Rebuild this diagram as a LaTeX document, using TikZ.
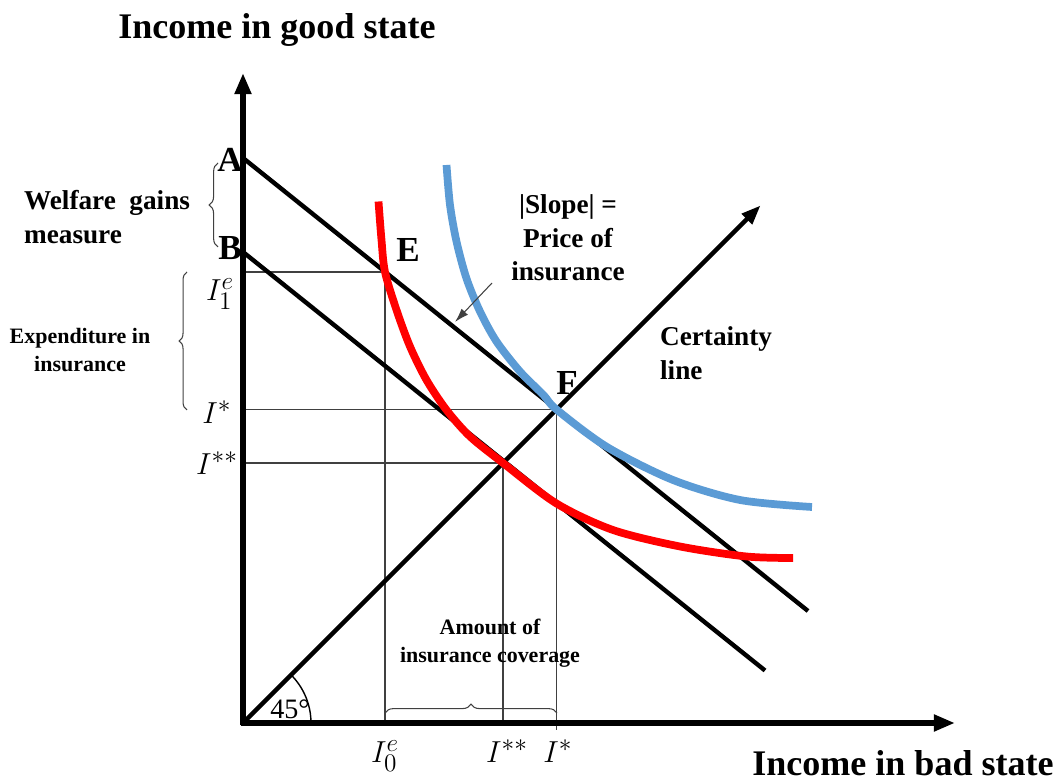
\documentclass[tikz,border=0pt]{standalone}
\usepackage{fontspec}
\setmainfont{Liberation Serif}
\usepackage{xcolor}
\usetikzlibrary{arrows.meta,positioning,decorations.pathreplacing,calc}

\definecolor{insblue}{RGB}{91,155,213}

\begin{document}
\begin{tikzpicture}[
    axis/.style={line width=3pt, -{Triangle[length=12pt,width=9pt]}},
    budget/.style={line width=2.5pt},
    guide/.style={line width=0.6pt, black!75},
    curly/.style={decorate, decoration={brace, amplitude=5pt}, line width=0.6pt, black!75},
    indiff/.style={line width=4.4pt},
    lbl/.style={font=\fontsize{15.5}{19}\selectfont\bfseries, align=center, inner sep=1pt},
    smalllbl/.style={font=\fontsize{12.5}{16}\selectfont\bfseries, align=center, inner sep=1pt},
    pt/.style={font=\fontsize{20}{22}\selectfont\bfseries, inner sep=1pt},
    mlbl/.style={font=\fontsize{19}{22}\selectfont, inner sep=1pt},
    axlbl/.style={font=\fontsize{20.5}{24}\selectfont\bfseries, inner sep=1pt}
]
\useasboundingbox (-4.86,-1.16) rectangle (16.30,14.46);

% Key points
\coordinate (O) at (0,0);
\coordinate (ytop) at (0,13.0);
\coordinate (xend) at (14.24,0);
\coordinate (aA) at (0,11.3);
\coordinate (aEnd) at (11.3,2.24);
\coordinate (bB) at (0,9.42);
\coordinate (bEnd) at (10.44,1.05);
\coordinate (cEnd) at (10.35,10.35);
\coordinate (E) at (2.84,9.02);
\coordinate (F) at (6.27,6.27);
\coordinate (G) at (5.2,5.2);

% Guide lines
\draw[guide] (O |- E) -- (E) -- (E |- O);
\draw[guide] (O |- F) -- (F) -- ($(F |- O)+(0,-0.15)$);
\draw[guide] (O |- G) -- (G) -- (G |- O);

% Axes
\draw[axis] (0,-0.05) -- (ytop);
\draw[axis] (-0.05,0) -- (xend);

% Budget lines
\draw[budget] (aA) -- (aEnd);
\draw[budget] (bB) -- (bEnd);

% Certainty line
\draw[budget, -{Triangle[length=11pt,width=8pt]}] (O) -- (cEnd);

% 45 degree arc
\draw[line width=0.8pt] (1.36,0) arc[start angle=0, end angle=45, radius=1.36];
\node[font=\fontsize{16}{18}\selectfont, inner sep=1pt] (deg) at (0.94,0.28) {45°};

% Indifference curves
\draw[indiff, red] plot[smooth, tension=0.5] coordinates {
  (2.71,10.43) (2.77,9.66) (E) (3.07,8.26) (3.34,7.53) (3.67,6.86)
  (4.07,6.26) (4.54,5.73) (G) (6.27,4.39) (7.40,3.86) (8.74,3.53)
  (10.07,3.33) (11.00,3.30)};
\draw[indiff, insblue] plot[smooth, tension=0.5] coordinates {
  (4.07,11.16) (4.14,10.36) (4.27,9.63) (4.47,8.89) (4.74,8.23)
  (5.07,7.63) (5.54,7.03) (6.01,6.56) (F) (7.28,5.52) (8.60,4.86)
  (9.94,4.46) (11.38,4.32)};

% Point labels
\node[pt] (labA) at (-0.26,11.26) {A};
\node[pt] (labB) at (-0.26,9.50) {B};
\node[pt] (labE) at (3.30,9.46) {E};
\node[pt] (labF) at (6.48,6.80) {F};

% Axis value labels
\node[mlbl] (i1e) at (-0.46,8.58) {$I_1^e$};
\node[mlbl] (istarY) at (-0.52,6.22) {$I^{*}$};
\node[mlbl] (iss) at (-0.52,5.20) {$I^{**}$};
\node[mlbl] (i0e) at (2.84,-0.66) {$I_0^e$};
\node[mlbl] (issX) at (5.28,-0.56) {$I^{**}$};
\node[mlbl] (istarX) at (6.30,-0.56) {$I^{*}$};

% Axis titles
\node[axlbl] (ytitle) at (0.68,13.86) {Income in good state};
\node[axlbl] (xtitle) at (13.2,-0.80) {Income in bad state};

% Braces
\draw[curly] (-0.5,9.52) -- (-0.5,11.2);
\draw[curly, decoration={brace, amplitude=4.5pt}] (-1.12,6.26) -- (-1.12,9.02);
\draw[curly] (2.84,0.2) -- (6.28,0.2);

% Text labels
\node[lbl, anchor=west, align=left] (welfare) at (-4.42,10.12) {Welfare\ \ gains\\measure};
\node[smalllbl] (expend) at (-3.26,7.46) {Expenditure in\\insurance};
\node[lbl] (slope) at (6.5,9.70) {|Slope| =\\Price of\\insurance};
\node[lbl, anchor=west, align=left] (cert) at (8.3,7.40) {Certainty\\line};
\node[smalllbl] (amount) at (4.94,1.60) {Amount of\\insurance coverage};

% Slope pointer
\coordinate (slopetail) at (4.98,8.80);
\coordinate (slopehead) at (4.24,8.02);
\draw[guide, -{Latex[length=8pt,width=5pt]}] (slopetail) -- (slopehead);

\end{tikzpicture}
\end{document}
